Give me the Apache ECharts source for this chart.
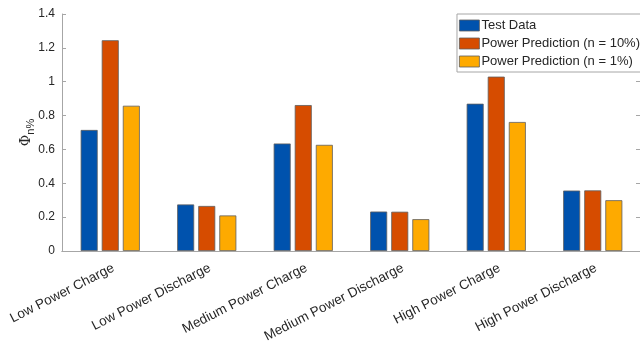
<!DOCTYPE html>
<html>
<head>
<meta charset="utf-8">
<script src="https://cdn.jsdelivr.net/npm/echarts@6/dist/echarts.min.js"></script>
<style>
  html, body { margin: 0; padding: 0; background: #fff; }
  #chart { width: 640px; height: 352px; }
</style>
</head>
<body>
<div id="chart"></div>
<script>
// Discharge/charge scenarios on the x axis
const categories = [
  'Low Power Charge',
  'Low Power Discharge',
  'Medium Power Charge',
  'Medium Power Discharge',
  'High Power Charge',
  'High Power Discharge'
];

// Φ n% per scenario
const testData = [0.715, 0.275, 0.635, 0.233, 0.87, 0.357];
const prediction10 = [1.245, 0.266, 0.862, 0.232, 1.03, 0.358];
const prediction1 = [0.858, 0.21, 0.627, 0.188, 0.762, 0.30];

const seriesNames = ['Test Data', 'Power Prediction (n = 10%)', 'Power Prediction (n = 1%)'];
const yTicks = [0, 0.2, 0.4, 0.6, 0.8, 1, 1.2, 1.4];

const FONT = '"Liberation Sans", Arial, Helvetica, sans-serif';
const AXIS_COLOR = '#a6a6a6';
const TEXT_COLOR = '#262626';
const colors = ['#0052ad', '#d64c00', '#feaa00'];

const chart = echarts.init(document.getElementById('chart'), null, { renderer: 'canvas' });

const barSeries = [testData, prediction10, prediction1].map((values, i) => ({
  name: seriesNames[i],
  type: 'bar',
  data: values,
  barWidth: 17,
  barGap: '24%',
  itemStyle: { color: colors[i], borderColor: '#5e5e5e', borderWidth: 0.8 }
}));

chart.setOption({
  animation: false,
  textStyle: { fontFamily: FONT },
  grid: { left: 62, right: -1, top: 14, bottom: 101, containLabel: false, outerBoundsMode: 'none' },
  legend: {
    z: 10,
    orient: 'vertical',
    right: -4,
    top: 14,
    itemWidth: 20,
    itemHeight: 11,
    itemGap: 5,
    padding: [5, 4, 4, 2],
    backgroundColor: '#fff',
    borderColor: '#a6a6a6',
    borderWidth: 1,
    borderRadius: 0,
    icon: 'rect',
    itemStyle: { borderColor: '#5e5e5e', borderWidth: 0.8 },
    textStyle: { fontSize: 13, color: TEXT_COLOR, fontFamily: FONT, padding: [0, 0, 0, -3] },
    data: seriesNames
  },
  xAxis: [
    {
      type: 'category',
      data: categories,
      z: 3,
      axisLine: { lineStyle: { color: AXIS_COLOR, width: 1 } },
      axisTick: { inside: true, alignWithLabel: true, length: 4, lineStyle: { color: '#5a5a5a' } },
      axisLabel: {
        rotate: 27,
        fontSize: 13.5,
        color: TEXT_COLOR,
        fontFamily: FONT,
        margin: 10,
        verticalAlign: 'top',
        interval: 0
      },
      splitLine: { show: false }
    },
    {
      // top edge of the axes box
      type: 'category',
      data: categories,
      position: 'top',
      z: 3,
      axisLine: { show: true, lineStyle: { color: AXIS_COLOR } },
      axisTick: { show: false },
      axisLabel: { show: false }
    }
  ],
  yAxis: [
    {
      type: 'value',
      min: 0,
      max: 1.4,
      interval: 0.2,
      z: 3,
      name: '{phi|Φ}{sub|n%}',
      nameLocation: 'middle',
      nameGap: 26,
      nameMoveOverlap: false,
      nameRotate: 90,
      nameTextStyle: {
        rich: {
          phi: { fontSize: 14, fontFamily: '"DejaVu Serif", serif', color: TEXT_COLOR, lineHeight: 20, verticalAlign: 'middle' },
          sub: { fontSize: 11, fontFamily: FONT, color: TEXT_COLOR, lineHeight: 20, verticalAlign: 'bottom', padding: [8, 0, 0, 0] }
        }
      },
      axisLine: { show: true, lineStyle: { color: AXIS_COLOR } },
      axisTick: { show: true, inside: true, length: 4, lineStyle: { color: AXIS_COLOR } },
      axisLabel: {
        fontSize: 12,
        color: TEXT_COLOR,
        fontFamily: FONT,
        margin: 7,
        formatter: v => String(yTicks.find(t => Math.abs(t - v) < 1e-9) ?? v)
      },
      splitLine: { show: false }
    },
    {
      // right edge of the axes box
      type: 'value',
      position: 'right',
      min: 0,
      max: 1.4,
      interval: 0.2,
      z: 3,
      axisLine: { show: true, lineStyle: { color: AXIS_COLOR } },
      axisTick: { show: true, inside: true, length: 5, lineStyle: { color: AXIS_COLOR } },
      axisLabel: { show: false },
      splitLine: { show: false }
    }
  ],
  series: barSeries
});
</script>
</body>
</html>
